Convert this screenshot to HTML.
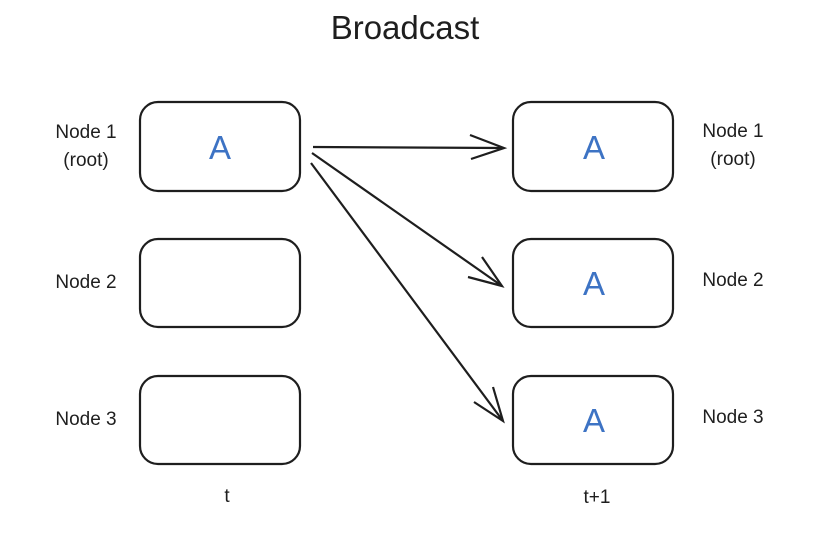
<!DOCTYPE html>
<html><head><style>
body{margin:0;width:824px;height:528px;background:#fff;font-family:"Liberation Sans",sans-serif;overflow:hidden}
</style></head><body>
<svg width="824" height="528" xmlns="http://www.w3.org/2000/svg" font-family="Liberation Sans, sans-serif">
<text x="405" y="39" font-size="33" text-anchor="middle" fill="#1e1e1e">Broadcast</text>
<g fill="none" stroke="#1e1e1e" stroke-width="2.2">
<rect x="140" y="102" width="160" height="89" rx="18"/>
<rect x="140" y="239" width="160" height="88" rx="18"/>
<rect x="140" y="376" width="160" height="88" rx="18"/>
<rect x="513" y="102" width="160" height="89" rx="18"/>
<rect x="513" y="239" width="160" height="88" rx="18"/>
<rect x="513" y="376" width="160" height="88" rx="18"/>
<path d="M313 147 L504 148 M470 135 L504 148 L471 159"/>
<path d="M312 153 L502 286 M482 257 L502 286 L468 277"/>
<path d="M311 163 L503 421 M493 387 L503 421 L474 402"/>
</g>
<g font-size="33" fill="#3d73c4" text-anchor="middle">
<text x="220" y="159">A</text>
<text x="594" y="159">A</text>
<text x="594" y="295">A</text>
<text x="594" y="432">A</text>
</g>
<g font-size="19" fill="#1e1e1e" text-anchor="middle">
<text x="86" y="138">Node 1</text><text x="86" y="166">(root)</text>
<text x="86" y="288">Node 2</text>
<text x="86" y="425">Node 3</text>
<text x="733" y="137">Node 1</text><text x="733" y="165">(root)</text>
<text x="733" y="286">Node 2</text>
<text x="733" y="423">Node 3</text>
<text x="227" y="502">t</text>
<text x="597" y="503">t+1</text>
</g>
</svg>
</body></html>
